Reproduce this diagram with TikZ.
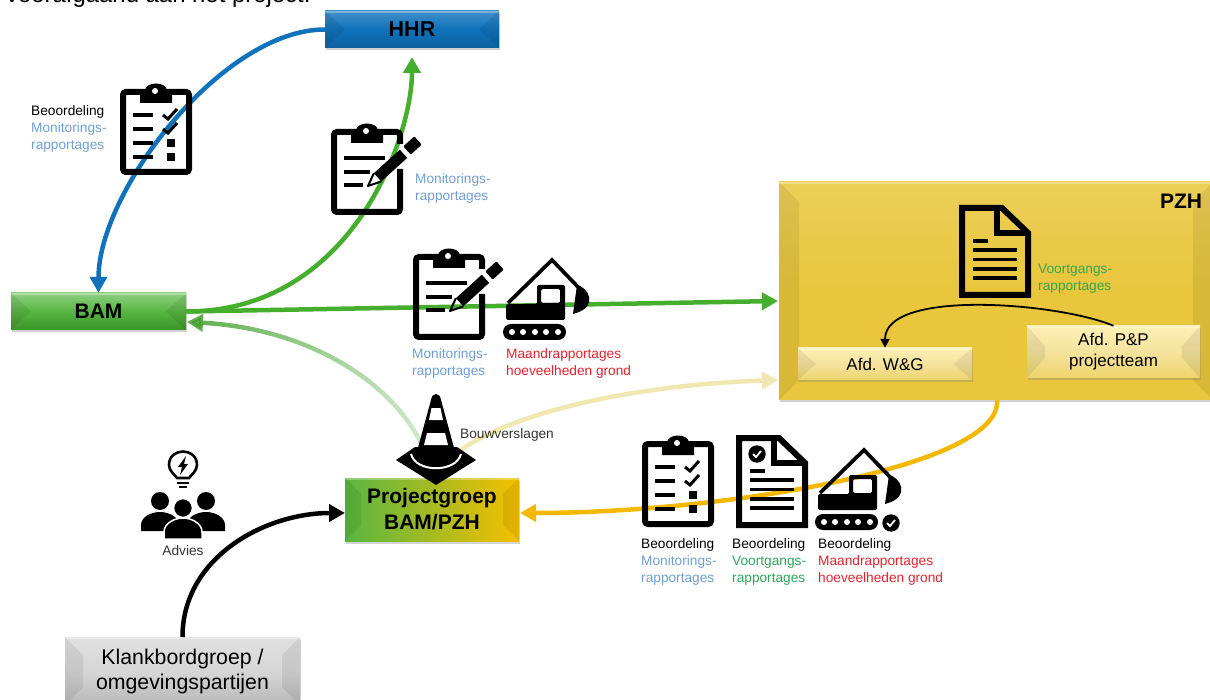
\documentclass[tikz,border=0pt]{standalone}
\usepackage{fontspec}
\setmainfont{Liberation Sans}
\usetikzlibrary{arrows.meta}
\usetikzlibrary{shadows}
\usetikzlibrary{fadings}

\definecolor{hhrblue}{HTML}{0F72BB}
\definecolor{bamgreen}{HTML}{45AE2C}
\definecolor{pzhyellow}{HTML}{F5B800}
\definecolor{pzhgold}{HTML}{E9C63B}
\definecolor{afdcream}{HTML}{FFF0B5}
\definecolor{monblue}{HTML}{6F9FD3}
\definecolor{maandred}{HTML}{E4222E}
\definecolor{voortgreen}{HTML}{2EA65A}

\tikzfading[name=fadetobam, left color=transparent!15, right color=transparent!80]

\newcommand{\clipbase}{
    \fill (20,20) -- (20,8) -- (25,8) .. controls (25,-2) and (47,-2) .. (47,8) -- (52,8) -- (52,20) -- cycle;
    \fill[white] (35,8) circle (3pt);
}

\tikzset{
    bevel/.style 2 args={path picture={
        \fill[black,opacity=.07] (path picture bounding box.north west) -- ([shift={(#1,-#2)}]path picture bounding box.north west)
            -- ([shift={(#1,#2)}]path picture bounding box.south west) -- (path picture bounding box.south west) -- cycle;
        \fill[black,opacity=.07] (path picture bounding box.north east) -- ([shift={(-#1,-#2)}]path picture bounding box.north east)
            -- ([shift={(-#1,#2)}]path picture bounding box.south east) -- (path picture bounding box.south east) -- cycle;
        \fill[white,opacity=.3] (path picture bounding box.north west) rectangle ([yshift=-2pt]path picture bounding box.north east);
    }},
    box/.style={inner sep=0pt, align=center, text=black,
        drop shadow={shadow xshift=1pt, shadow yshift=-2.5pt, opacity=.35}},
    label/.style={inner sep=0pt, anchor=north west, align=left, font=\fontsize{13.7}{17.2}\selectfont},
    arrowline/.style={line width=4.5pt, -{Triangle[width=17pt,length=16pt]}},
    clipcheck/.pic={
        \draw[line width=6pt, rounded corners=3pt] (3,9) rectangle (69,89);
        \clipbase
        \foreach \y in {32,46,60,74}
            \draw[line width=3.5pt] (13,\y) -- (33,\y);
        \foreach \y in {0,14}
            \draw[line width=3pt] (43,32+\y) -- (48,36+\y) -- (57,26+\y);
        \fill (47,56) rectangle (55,64);
        \fill (47,70) rectangle (55,78);
    },
    clippen/.pic={
        \draw[line width=6pt, rounded corners=3pt] (69,21) -- (69,9) -- (3,9) -- (3,89) -- (69,89) -- (69,46);
        \clipbase
        \draw[line width=3.5pt] (13,35) -- (54,35);
        \draw[line width=3.5pt] (13,49) -- (39,49);
        \draw[line width=3.5pt] (13,62) -- (32,62);
        \fill (42.9,50.2) -- (68.8,26.7) -- (76.2,34.9) -- (50.3,58.4) -- cycle;
        \fill[rounded corners=1pt] (72.3,23.4) -- (83.3,13.4) -- (90.7,21.6) -- (79.7,31.6) -- cycle;
        \draw[line width=2pt, line join=round] (42.9,50.2) -- (37,63) -- (50.3,58.4);
    },
    digger/.pic={
        \draw[line width=3.7pt] (2,46) -- (46,3) -- (73,31);
        \fill[even odd rule, rounded corners=1.5pt] (0,47) -- (31,47) -- (31,28) -- (59,28) -- (59,63) -- (0,63) -- cycle
            (35,32) -- (54,32) -- (54,46) -- (35,46) -- cycle;
        \fill (71,28) .. controls (82,30) and (94,50) .. (67,57) -- cycle;
        \fill[rounded corners=8pt] (-3,67) rectangle (60,83);
        \foreach \x in {6,17,29,40,52}
            \fill[white] (\x,75) circle (3pt);
    },
    checkdot/.pic={
        \fill (0,0) circle (8.7pt);
        \draw[white, line width=1.8pt] (-4,0) -- (-1,3) -- (4,-3);
    },
    docicon/.pic={
        \draw[line width=6pt] (3,3) -- (43,3) -- (69,28) -- (69,90) -- (3,90) -- cycle;
        \draw[line width=6pt] (38,3) -- (38,28) -- (69,28);
        \draw[line width=3.5pt] (14,36) -- (29,36);
        \foreach \y in {45,54.5,64,73}
            \draw[line width=3.5pt] (14,\y) -- (58,\y);
    },
    conetop/.pic={
        \fill[line join=round] (0,67) -- (19,54) -- (61,54) -- (80,67) -- (40,92) -- cycle;
        \draw[white, line width=2pt] (15,61) .. controls (20,80) and (60,80) .. (65,61);
        \fill (35,7) .. controls (36,-1) and (44,-1) .. (45,7) -- (60,62) .. controls (62,77) and (18,77) .. (20,62) -- cycle;
        \fill[white] (35.5,15) -- (44.5,15) -- (47,27) -- (33,27) -- cycle;
        \fill[white] (31,40) -- (49,40) -- (52,52) -- (28,52) -- cycle;
    },
    advice/.pic={
        \draw[line width=2.6pt] (-6,12) .. controls (-8,9) and (-14,5) .. (-14,-1) .. controls (-14,-19) and (14,-19) .. (14,-1)
            .. controls (14,5) and (8,9) .. (6,12) -- cycle;
        \fill (3,-10) -- (-5,1) -- (-1,1) -- (-3,9) -- (5,-2) -- (1,-2) -- cycle;
        \draw[line width=1.8pt] (-6,17) -- (6,17);
        \draw[line width=1.8pt] (-4,21) -- (4,21);
        \fill (-23,35) circle (9pt);
        \fill (23,35) circle (9pt);
        \fill (-42,65) -- (-42,59) .. controls (-42,51) and (-32,46) .. (-23,46) .. controls (-14,46) and (-4,51) .. (-4,59) -- (-4,65) -- cycle;
        \fill (42,65) -- (42,59) .. controls (42,51) and (32,46) .. (23,46) .. controls (14,46) and (4,51) .. (4,59) -- (4,65) -- cycle;
        \fill[draw=white, line width=1.5pt] (0,42) circle (9.5pt);
        \fill[draw=white, line width=1.5pt] (-19,73) -- (-19,66) .. controls (-19,57) and (-8,52) .. (0,52) .. controls (8,52) and (19,57) .. (19,66) -- (19,73) -- cycle;
    },
}

\begin{document}
\begin{tikzpicture}[x=1pt,y=-1pt]
    \useasboundingbox (0,0) rectangle (1210,700);

    \node[inner sep=0pt, anchor=base west, font=\fontsize{23.9}{28}\selectfont] (intro) at (6,3) {voorafgaand aan het project.};

    % boxes
    \node[box, minimum width=174pt, minimum height=37pt, top color=hhrblue!80!white, bottom color=hhrblue!85!black, middle color=hhrblue,
        bevel={20pt}{18.5pt}, font=\bfseries\fontsize{21.5}{24}\selectfont] (hhr) at (412,29.5) {HHR};
    \node[box, minimum width=175pt, minimum height=37pt, top color=bamgreen!60!white, bottom color=bamgreen!85!black, middle color=bamgreen!90!white,
        bevel={20pt}{18.5pt}, font=\bfseries\fontsize{21}{24}\selectfont] (bam) at (98.5,311.5) {BAM};
    \node[box, minimum width=434pt, minimum height=218pt, top color=pzhgold!85!white, bottom color=pzhgold, middle color=pzhgold,
        bevel={20pt}{20pt}] (pzh) at (996,291) {};
    \node[font=\bfseries\fontsize{21}{23}\selectfont, inner sep=0pt] (pzhtxt) at (1181,201) {PZH};
    \node[box, minimum width=174pt, minimum height=32pt, top color=afdcream, bottom color=pzhgold!75!white, middle color=pzhgold!50!white,
        bevel={18pt}{16pt}, font=\fontsize{17}{21}\selectfont] (wg) at (885,364) {Afd. W\&G};
    \node[box, minimum width=173pt, minimum height=52pt, top color=afdcream, bottom color=pzhgold!75!white, middle color=pzhgold!50!white,
        bevel={18pt}{20pt}, font=\fontsize{17}{21}\selectfont] (pp) at (1113.5,352) {Afd. P\&P\\projectteam};
    \node[box, minimum width=174pt, minimum height=63pt, left color=bamgreen!90!white, right color=pzhyellow!90!yellow,
        bevel={16pt}{16pt}, font=\bfseries\fontsize{21}{26}\selectfont] (proj) at (432,509.5) {Projectgroep\\BAM/PZH};
    \node[box, minimum width=235pt, minimum height=68pt, top color=black!12, bottom color=black!28, middle color=black!16,
        bevel={18pt}{18pt}, font=\fontsize{21.3}{25}\selectfont, anchor=north] (klank) at (182.5,637) {Klankbordgroep /\\omgevingspartijen};

    \coordinate (hhrin) at (412,57);
    \coordinate (bamin) at (187,322);
    \coordinate (pzhin) at (778,301);
    \coordinate (pzhlow) at (778,380);
    \coordinate (pzhout) at (997,400);
    \coordinate (projright) at (520,513);
    \coordinate (projleft) at (345,513);

    % connectors
    \draw[arrowline, color=hhrblue] (hhr.west) to[out=180,in=90,looseness=.75] (bam.north);
    \draw[arrowline, color=bamgreen] (bam.east) to[out=0,in=-90,out looseness=1.25,in looseness=.6] (hhrin);
    \draw[arrowline, color=bamgreen] (bam.east) -- (pzhin);
    \draw[arrowline, color=bamgreen!90!black, path fading=fadetobam] (proj.north) to[out=99,in=-3,out looseness=.7,in looseness=1.2] (bamin);
    \draw[arrowline, color={rgb,255:red,240;green,232;blue,176}] (proj.north) to[out=57,in=182,out looseness=.5,in looseness=1.12] (pzhlow);
    \draw[arrowline, color=pzhyellow] (pzhout) to[out=-85,in=0,out looseness=.35,in looseness=1.05] (projright);
    \draw[arrowline, color=black] (klank.north) to[out=90,in=180] (projleft);
    \draw[line width=1.8pt, -{Triangle[width=9pt,length=9pt]}] (pp.north) to[out=157,in=90,looseness=.66] (wg.north);

    % icons
    \pic at (120,83) {clipcheck};
    \pic at (331,123) {clippen};
    \pic at (413,248) {clippen};
    \pic at (506,257) {digger};
    \pic at (959,205) {docicon};
    \pic at (396,393) {conetop};
    \pic at (183,466) {advice};
    \pic at (642,435) {clipcheck};
    \pic at (736,435) {docicon};
    \pic at (757,454) {checkdot};
    \pic at (818,447) {digger};
    \pic at (891,523) {checkdot};

    % labels
    \node[label] (lab1) at (31,105) {Beoordeling\\\textcolor{monblue}{Monitorings-}\\\textcolor{monblue}{rapportages}};
    \node[label, text=monblue] (lab2) at (415,173) {Monitorings-\\rapportages};
    \node[label, text=monblue] (lab3) at (412,348) {Monitorings-\\rapportages};
    \node[label, text=maandred] (lab4) at (506,348) {Maandrapportages\\hoeveelheden grond};
    \node[label, text=black!80] (lab5) at (460,428) {Bouwverslagen};
    \node[label, text=voortgreen!80!bamgreen] (lab6) at (1038,264) {Voortgangs-\\rapportages};
    \node[label] (lab7) at (641,538) {Beoordeling\\\textcolor{monblue}{Monitorings-}\\\textcolor{monblue}{rapportages}};
    \node[label] (lab8) at (732,538) {Beoordeling\\\textcolor{voortgreen}{Voortgangs-}\\\textcolor{voortgreen}{rapportages}};
    \node[label] (lab9) at (818,538) {Beoordeling\\\textcolor{maandred}{Maandrapportages}\\\textcolor{maandred}{hoeveelheden grond}};
    \node[label, anchor=center, text=black!80] (lab10) at (183,551) {Advies};
\end{tikzpicture}
\end{document}
